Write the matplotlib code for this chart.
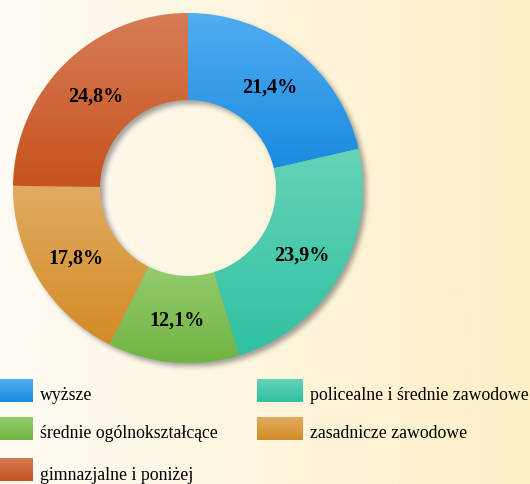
import numpy as np
import matplotlib
matplotlib.use("Agg")
import matplotlib.pyplot as plt
from matplotlib.patches import Wedge
from matplotlib.colors import to_rgb

# dane
categories = ["wyższe", "policealne i średnie zawodowe", "średnie ogólnokształcące",
              "zasadnicze zawodowe", "gimnazjalne i poniżej"]
values = [21.4, 23.9, 12.1, 17.8, 24.8]
# kolory gradientu (góra, dół)
colors_top = ["#52acf0", "#66d3b7", "#94cb6c", "#e1ab63", "#d67c56"]
colors_bottom = ["#198ce0", "#30c1a1", "#70b443", "#d38b24", "#c7531e"]

W, H = 530, 484
fig = plt.figure(figsize=(W / 100, H / 100), dpi=100)
ax = fig.add_axes([0, 0, 1, 1])
ax.set_xlim(0, W)
ax.set_ylim(0, H)
ax.axis("off")

# tło - gradient poziomy
bg_l = np.array(to_rgb("#fdfbf4"))
bg_r = np.array(to_rgb("#fdefc6"))
t = np.linspace(0, 1, 256)[None, :, None]
bg = bg_l * (1 - t) + bg_r * t
ax.imshow(bg, extent=[0, W, 0, H], aspect="auto", zorder=0)


def vgrad(c_top, c_bot):
    tt = np.linspace(0, 1, 128)[:, None, None]
    return np.array(to_rgb(c_bot)) * (1 - tt) + np.array(to_rgb(c_top)) * tt


# pierścień
cx, cy = 188, H - 188
R, r = 175, 88

# cień - rozmyta maska pierścienia
yy, xx = np.mgrid[0:H, 0:W]
dist = np.hypot(xx - (cx + 3), (H - yy) - (cy - 3))
mask = ((dist <= R) & (dist >= r)).astype(float)


def box_blur(a, k):
    for axis in (0, 1):
        c = np.cumsum(np.pad(a, [(k + 1, k) if i == axis else (0, 0) for i in range(2)], mode="edge"), axis=axis)
        if axis == 0:
            a = (c[2 * k + 1:] - c[:-2 * k - 1]) / (2 * k + 1)
        else:
            a = (c[:, 2 * k + 1:] - c[:, :-2 * k - 1]) / (2 * k + 1)
    return a


for _ in range(3):
    mask = box_blur(mask, 2)
shadow = np.zeros((H, W, 4))
shadow[..., :3] = 0.35
shadow[..., 3] = mask * 0.55
ax.imshow(shadow, extent=[0, W, 0, H], origin="upper", aspect="auto", zorder=1)

total = sum(values)
start = 90.0
for i, v in enumerate(values):
    sweep = 360 * v / total
    th1, th2 = start - sweep, start
    wdg = Wedge((cx, cy), R, th1, th2, width=R - r, facecolor="none", edgecolor="none", zorder=2)
    ax.add_patch(wdg)
    ext = wdg.get_path().get_extents()
    im = ax.imshow(vgrad(colors_top[i], colors_bottom[i]), origin="lower",
                   extent=[ext.x0, ext.x1, ext.y0, ext.y1], aspect="auto", zorder=2)
    im.set_clip_path(wdg)
    mid = np.deg2rad((th1 + th2) / 2)
    rm = (R + r) / 2
    ax.text(cx + rm * np.cos(mid), cy + rm * np.sin(mid) - 2,
            f"{v:.1f}".replace(".", ",") + "%", ha="center", va="center",
            fontsize=14.5, fontweight="bold", family="Liberation Serif", zorder=3)
    start -= sweep

# legenda
leg_x = [-13, 257, -13, 257, -13]
leg_y = [379, 379, 417, 417, 458]
for i, name in enumerate(categories):
    x0, y0 = leg_x[i], H - leg_y[i] - 23
    ax.imshow(vgrad(colors_top[i], colors_bottom[i]), origin="lower",
              extent=[x0, x0 + 46, y0, y0 + 23], aspect="auto", zorder=2)
    ax.text(x0 + 53, y0 + 6, name, ha="left", va="center",
            fontsize=12.8, family="Liberation Serif", zorder=3)

ax.set_xlim(0, W)
ax.set_ylim(0, H)
fig.savefig("out.png", dpi=100)
